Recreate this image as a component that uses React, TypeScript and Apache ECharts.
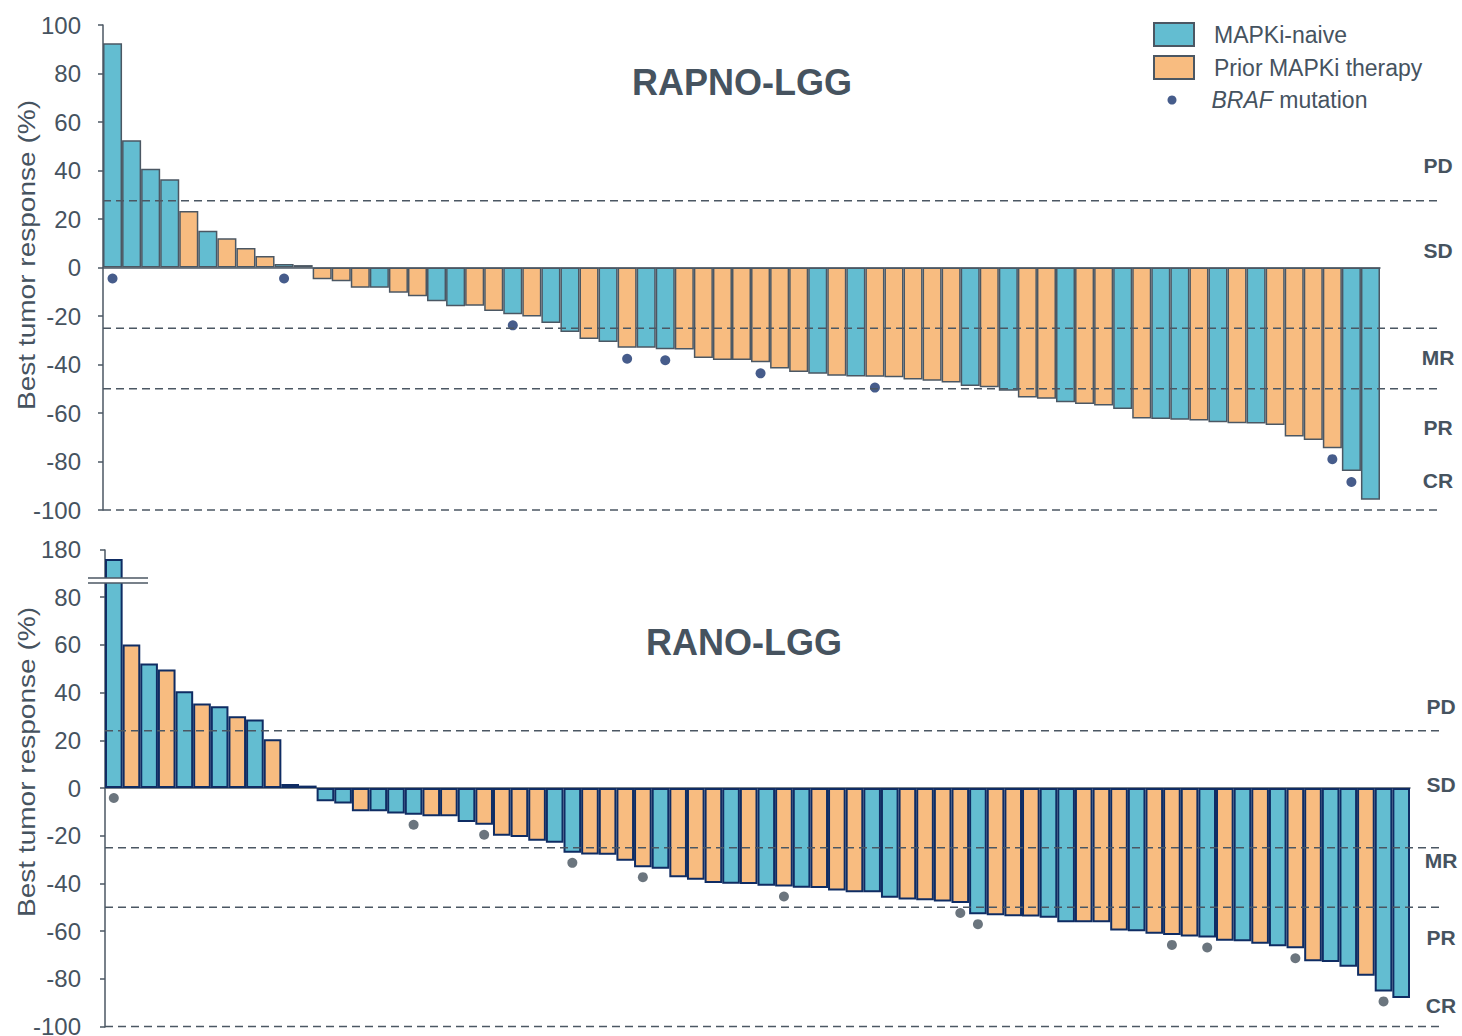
import React, { useEffect, useRef } from 'react';
import * as echarts from 'echarts';

// ---------- data ----------
const GROUP_NAIVE = 'MAPKi-naive';
const GROUP_PRIOR = 'Prior MAPKi therapy';
const BRAF_LABEL = 'BRAF mutation';

// RAPNO-LGG (top panel): best tumor response (%) per patient, sorted
const RAPNO_VALUES = [
  92.5, 52.5, 40.7, 36.4, 23.3, 15.2, 12.1, 8.0, 4.7, 1.4,
  1.0, -4.8, -5.7, -8.4, -8.4, -10.4, -11.9, -13.9, -16.0, -15.8,
  -17.9, -19.3, -20.2, -22.9, -26.6, -29.5, -30.7, -33.1, -33.1, -33.7,
  -33.8, -37.3, -38.1, -38.1, -39.1, -41.7, -43.1, -43.8, -44.6, -44.9,
  -45.0, -45.3, -46.2, -46.7, -47.4, -48.9, -49.4, -50.8, -53.6, -54.1,
  -55.6, -56.3, -56.9, -58.3, -62.3, -62.5, -62.8, -63.1, -63.8, -64.2,
  -64.3, -64.9, -69.7, -71.1, -74.5, -83.9, -95.8,
];
// N = MAPKi-naive, P = prior MAPKi therapy
const RAPNO_GROUPS = [
  'N', 'N', 'N', 'N', 'P', 'N', 'P', 'P', 'P', 'N',
  'P', 'P', 'P', 'P', 'N', 'P', 'P', 'N', 'N', 'P',
  'P', 'N', 'P', 'N', 'N', 'P', 'N', 'P', 'N', 'N',
  'P', 'P', 'P', 'P', 'P', 'P', 'P', 'N', 'P', 'N',
  'P', 'P', 'P', 'P', 'P', 'N', 'P', 'N', 'P', 'P',
  'N', 'P', 'P', 'N', 'P', 'N', 'N', 'P', 'N', 'P',
  'N', 'P', 'P', 'P', 'P', 'N', 'N',
];
// 1-based patient positions carrying a BRAF mutation
const RAPNO_BRAF = [1, 10, 22, 28, 30, 35, 41, 65, 66];

// RANO-LGG (bottom panel)
const RANO_VALUES = [
  176, 60.2, 52.2, 49.7, 40.6, 35.4, 34.3, 30.1, 28.7, 20.4,
  1.7, 1.0, -5.6, -6.5, -9.8, -9.8, -10.7, -11.2, -11.8, -11.8,
  -14.3, -15.4, -20.0, -20.5, -22.1, -23.0, -27.2, -27.9, -28.0, -30.5,
  -33.2, -33.9, -37.4, -38.5, -39.8, -40.1, -40.2, -41.0, -41.3, -41.8,
  -41.9, -43.0, -43.7, -43.7, -46.0, -46.8, -47.1, -47.6, -48.2, -52.9,
  -53.4, -53.8, -53.9, -54.4, -56.3, -56.3, -56.3, -59.7, -60.1, -61.1,
  -61.6, -62.3, -62.7, -64.0, -64.3, -65.3, -66.4, -67.2, -72.6, -73.0,
  -74.9, -78.7, -85.3, -88.1,
];
const RANO_GROUPS = [
  'N', 'P', 'N', 'P', 'N', 'P', 'N', 'P', 'N', 'P',
  'N', 'N', 'N', 'N', 'P', 'N', 'N', 'N', 'P', 'P',
  'N', 'P', 'P', 'P', 'P', 'N', 'N', 'P', 'P', 'P',
  'P', 'N', 'P', 'P', 'P', 'N', 'P', 'N', 'P', 'N',
  'P', 'P', 'P', 'N', 'N', 'P', 'P', 'P', 'P', 'N',
  'P', 'P', 'P', 'N', 'N', 'P', 'P', 'P', 'N', 'P',
  'P', 'P', 'N', 'P', 'N', 'P', 'N', 'P', 'P', 'N',
  'N', 'P', 'N', 'N',
];
const RANO_BRAF = [1, 18, 22, 27, 31, 39, 49, 50, 61, 63, 68, 73];

// axes
const RAPNO_Y = { min: -100, max: 100, interval: 20 };
const RANO_Y = { min: -100, max: 180, interval: 20 };
const RANO_TICKS = [-100, -80, -60, -40, -20, 0, 20, 40, 60, 80, 180];
const RANO_AXIS_BREAK = { start: 86, end: 168, gap: 2 };

// response category thresholds and zone label anchors (% change)
const RAPNO_THRESHOLDS = [27.5, -25, -50, -100];
const RANO_THRESHOLDS = [24, -25, -50, -100];
const RESPONSE_ZONES = ['PD', 'SD', 'MR', 'PR', 'CR'];
const RAPNO_ZONE_AT = [42, 7, -37, -66, -88];
const RANO_ZONE_AT = [34, 1.5, -30.5, -62.5, -91];

const TITLES = ['RAPNO-LGG', 'RANO-LGG'];
const Y_TITLE = 'Best tumor response (%)';

// ---------- style ----------
const FONT = '"Liberation Sans", Arial, Helvetica, sans-serif';
const TEXT = '#46535f';
const AXIS = '#4b5763';
const BLUE = '#63bdd1';
const ORANGE = '#f8bc80';
const TOP_BORDER = '#4b5763';
const BOT_BORDER = '#0f2c63';
const TOP_DOT = '#18336e';
const BOT_DOT = '#46525e';

const TOP_GRID = { left: 103, top: 25, width: 1277, height: 485 };
const BOT_GRID = { left: 105, top: 549.5, width: 1305, height: 477 };

function bars(values: number[], groups: string[], code: string, axis: number, border: string, bw: number) {
  return {
    type: 'bar',
    name: code === 'N' ? GROUP_NAIVE : GROUP_PRIOR,
    xAxisIndex: axis,
    yAxisIndex: axis,
    data: values.map((v, i) => (groups[i] === code ? v : '-')),
    barGap: '-100%',
    barCategoryGap: '0%',
    itemStyle: { color: code === 'N' ? BLUE : ORANGE, borderColor: border, borderWidth: bw },
    z: 2,
  };
}

function dots(values: number[], braf: number[], axis: number, color: string, offset: number) {
  return {
    type: 'scatter',
    name: BRAF_LABEL,
    xAxisIndex: axis,
    yAxisIndex: axis,
    data: values.map((v, i) => (braf.includes(i + 1) ? Math.min(v, 0) : '-')),
    symbol: 'circle',
    symbolSize: 10,
    symbolOffset: [0, offset],
    itemStyle: { color },
    z: 5,
  };
}

function yAxis(grid: number, cfg: { min: number; max: number; interval: number }, margin: number, extra: any = {}, custom?: number[]) {
  return {
    gridIndex: grid,
    type: 'value',
    min: cfg.min,
    max: cfg.max,
    interval: cfg.interval,
    axisLine: { show: true, lineStyle: { color: AXIS, width: 1.5 } },
    axisTick: {
      show: true,
      length: 5,
      lineStyle: { color: AXIS, width: 1.5 },
      ...(custom ? { customValues: custom } : {}),
    },
    axisLabel: {
      fontSize: 24,
      color: TEXT,
      margin,
      fontFamily: FONT,
      showMaxLabel: true,
      showMinLabel: true,
      hideOverlap: false,
      ...(custom ? { customValues: custom } : {}),
    },
    splitLine: { show: false },
    ...extra,
  };
}

function xAxis(grid: number, n: number) {
  return {
    gridIndex: grid,
    type: 'category',
    data: Array.from({ length: n }, (_, i) => String(i + 1)),
    axisLine: { show: true, onZero: true, lineStyle: { color: AXIS, width: 1.5 } },
    axisTick: { show: false },
    axisLabel: { show: false },
    splitLine: { show: false },
  };
}

export default function App() {
  const ref = useRef<HTMLDivElement>(null);

  useEffect(() => {
    if (!ref.current) return;
    const chart = echarts.init(ref.current, null, { renderer: 'svg' });
    chart.setOption({
      animation: false,
      backgroundColor: '#ffffff',
      grid: [
        { ...TOP_GRID, containLabel: false, outerBoundsMode: 'none' },
        { ...BOT_GRID, containLabel: false, outerBoundsMode: 'none' },
      ],
      xAxis: [xAxis(0, RAPNO_VALUES.length), xAxis(1, RANO_VALUES.length)],
      yAxis: [
        yAxis(0, RAPNO_Y, 22),
        yAxis(
          1,
          RANO_Y,
          24,
          {
            breaks: [RANO_AXIS_BREAK],
            breakArea: { show: false },
            breakLabelLayout: { moveOverlap: false },
          },
          RANO_TICKS
        ),
      ],
      legend: [
        {
          data: [GROUP_NAIVE, GROUP_PRIOR],
          orient: 'vertical',
          left: 1153,
          top: 22,
          padding: 0,
          itemWidth: 40,
          itemHeight: 23,
          itemGap: 8,
          icon: 'rect',
          selectedMode: false,
          textStyle: { fontSize: 23, color: TEXT, fontFamily: FONT, padding: [0, 0, 0, 15] },
        },
        {
          data: [BRAF_LABEL],
          left: 1167.5,
          top: 88.5,
          padding: 0,
          itemWidth: 9,
          itemHeight: 9,
          icon: 'circle',
          selectedMode: false,
          formatter: () => '{sp|}{i|BRAF} mutation',
          textStyle: {
            fontSize: 23,
            color: TEXT,
            fontFamily: FONT,
            rich: {
              sp: { width: 30 },
              i: { fontStyle: 'italic', fontSize: 23, color: TEXT, fontFamily: FONT },
            },
          },
        },
      ],
      series: [
        bars(RAPNO_VALUES, RAPNO_GROUPS, 'N', 0, TOP_BORDER, 1.5),
        bars(RAPNO_VALUES, RAPNO_GROUPS, 'P', 0, TOP_BORDER, 1.5),
        dots(RAPNO_VALUES, RAPNO_BRAF, 0, TOP_DOT, 11),
        bars(RANO_VALUES, RANO_GROUPS, 'N', 1, BOT_BORDER, 2),
        bars(RANO_VALUES, RANO_GROUPS, 'P', 1, BOT_BORDER, 2),
        dots(RANO_VALUES, RANO_BRAF, 1, BOT_DOT, 10),
      ],
    });

    const py = (axis: number, v: number) => chart.convertToPixel({ yAxisIndex: axis }, v) as number;
    const elements: any[] = [];

    const panels = [
      { axis: 0, left: TOP_GRID.left, right: 1437, th: RAPNO_THRESHOLDS, zoneAt: RAPNO_ZONE_AT, zx: 1438, title: TITLES[0], tx: 742, ty: 82, yt: 255 },
      { axis: 1, left: BOT_GRID.left, right: 1440, th: RANO_THRESHOLDS, zoneAt: RANO_ZONE_AT, zx: 1441, title: TITLES[1], tx: 744, ty: 642, yt: 762 },
    ];
    panels.forEach((p) => {
      p.th.forEach((t) => {
        const y = py(p.axis, t);
        elements.push({
          type: 'line',
          z: 20,
          shape: { x1: p.left, y1: y, x2: p.right, y2: y },
          style: { stroke: AXIS, lineWidth: 1.5, lineDash: [8, 5] },
        });
      });
      RESPONSE_ZONES.forEach((z, i) => {
        elements.push({
          type: 'text',
          z: 20,
          x: p.zx,
          y: py(p.axis, p.zoneAt[i]),
          style: { text: z, fill: TEXT, fontSize: 21, fontWeight: 'bold', fontFamily: FONT, align: 'center', verticalAlign: 'middle' },
        });
      });
      elements.push({
        type: 'text',
        z: 20,
        x: p.tx,
        y: p.ty,
        style: { text: p.title, fill: TEXT, fontSize: 36, fontWeight: 'bold', fontFamily: FONT, align: 'center', verticalAlign: 'middle' },
      });
      elements.push({
        type: 'text',
        z: 20,
        x: 27,
        y: p.yt,
        rotation: Math.PI / 2,
        scaleX: 1.22,
        style: { text: Y_TITLE, fill: TEXT, fontSize: 23, fontFamily: FONT, align: 'center', verticalAlign: 'middle' },
      });
    });

    // axis-break marker on the RANO panel
    const yHi = py(1, RANO_AXIS_BREAK.end);
    const yLo = py(1, RANO_AXIS_BREAK.start);
    elements.push({
      type: 'rect',
      z: 30,
      shape: { x: 88, y: Math.min(yHi, yLo), width: 60, height: Math.abs(yLo - yHi) },
      style: { fill: '#ffffff' },
    });
    [yHi, yLo].forEach((y) =>
      elements.push({
        type: 'line',
        z: 31,
        shape: { x1: 88, y1: y, x2: 148, y2: y },
        style: { stroke: AXIS, lineWidth: 1.5 },
      })
    );

    chart.setOption({ graphic: { elements } });

    return () => chart.dispose();
  }, []);

  return <div ref={ref} style={{ position: 'fixed', left: 0, top: 0, width: 1462, height: 1036, background: '#fff' }} />;
}
